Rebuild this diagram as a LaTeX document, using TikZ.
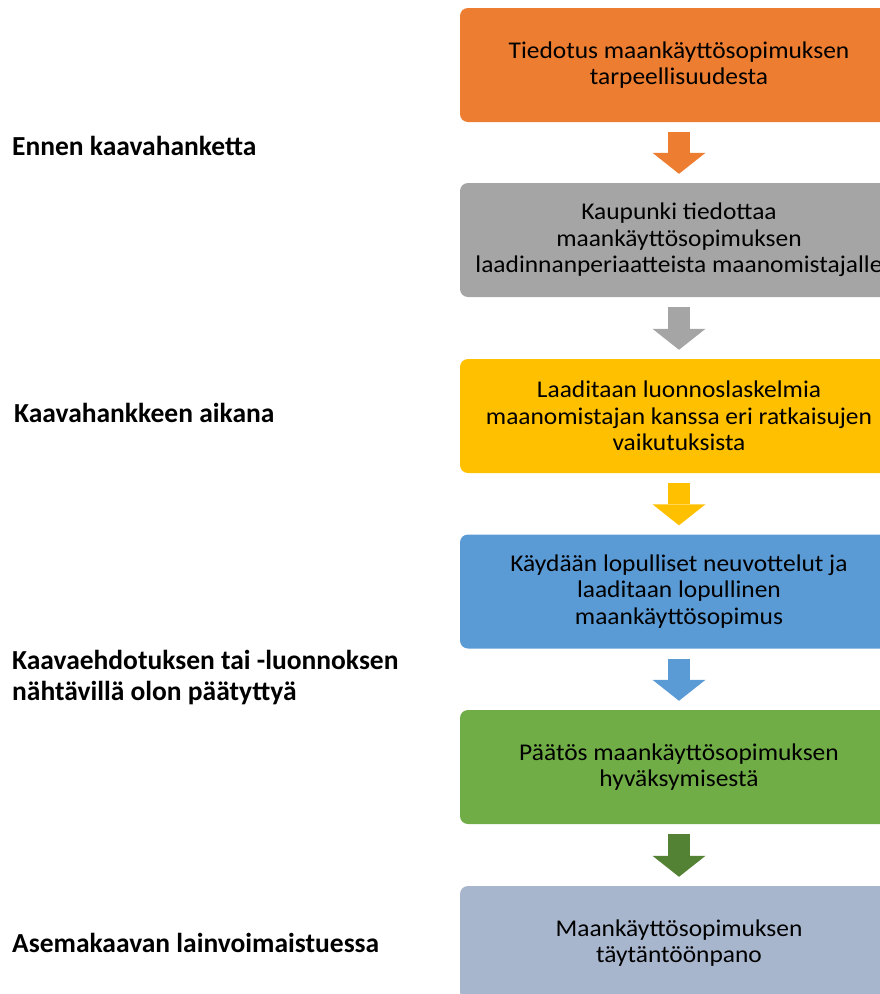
\documentclass[tikz,border=0pt]{standalone}
\usepackage{fontspec}
\setmainfont{Carlito}
\newfontfamily\stepfont[FakeStretch=1.06]{Carlito}
\usepackage{tikz}
\usetikzlibrary{arrows.meta}

\definecolor{stepOrange}{HTML}{ED7D31}
\definecolor{stepGray}{HTML}{A5A5A5}
\definecolor{stepGold}{HTML}{FFC000}
\definecolor{stepBlue}{HTML}{5B9BD5}
\definecolor{stepGreen}{HTML}{70AD47}
\definecolor{stepDarkGreen}{HTML}{548235}
\definecolor{stepSlate}{HTML}{A8B6CD}

\tikzset{
  stepbox/.style={rounded corners=8pt, minimum width=438pt, minimum height=114pt,
                  align=center, inner sep=0pt, font=\stepfont\fontsize{24}{26.5}\selectfont},
  phase/.style={anchor=west, align=left, inner sep=0pt,
                font=\bfseries\fontsize{27.5}{31}\selectfont},
  flow/.style={line width=22pt, shorten <=10pt, shorten >=9pt,
               -{Triangle[length=21pt, width=53pt, line width=0pt]}}
}

\begin{document}
\begin{tikzpicture}[x=1pt, y=-1pt]
  \useasboundingbox (0,0) rectangle (880,994);
  \clip (0,0) rectangle (880,994);
  % steps on the right
  \node[stepbox, fill=stepOrange] (tiedotus) at (679,65)
    {Tiedotus maankäyttösopimuksen\\tarpeellisuudesta};
  \node[stepbox, fill=stepGray] (periaatteet) at (679,240)
    {Kaupunki tiedottaa\\maankäyttösopimuksen\\laadinnanperiaatteista maanomistajalle};
  \node[stepbox, fill=stepGold] (laskelmat) at (679,416)
    {Laaditaan luonnoslaskelmia\\maanomistajan kanssa eri ratkaisujen\\vaikutuksista};
  \node[stepbox, fill=stepBlue] (neuvottelut) at (679,591.5)
    {Käydään lopulliset neuvottelut ja\\laaditaan lopullinen\\maankäyttösopimus};
  \node[stepbox, fill=stepGreen] (paatos) at (679,767)
    {Päätös maankäyttösopimuksen\\hyväksymisestä};
  \node[stepbox, fill=stepSlate] (panotoon) at (679,943)
    {Maankäyttösopimuksen\\täytäntöönpano};
  % arrows between steps
  \foreach \a/\b/\c in {tiedotus/periaatteet/stepOrange, periaatteet/laskelmat/stepGray,
                        laskelmat/neuvottelut/stepGold, neuvottelut/paatos/stepBlue,
                        paatos/panotoon/stepDarkGreen}
    \draw[flow, draw=\c, fill=\c] (\a.south) -- (\b.north);
  % phases on the left
  \node[phase] (ennen) at (12,146) {Ennen kaavahanketta};
  \node[phase] (aikana) at (14,413) {Kaavahankkeen aikana};
  \node[phase] (nahtavilla) at (12,678)
    {Kaavaehdotuksen tai -luonnoksen\\nähtävillä olon päätyttyä};
  \node[phase] (voima) at (12,943) {Asemakaavan lainvoimaistuessa};
\end{tikzpicture}
\end{document}
